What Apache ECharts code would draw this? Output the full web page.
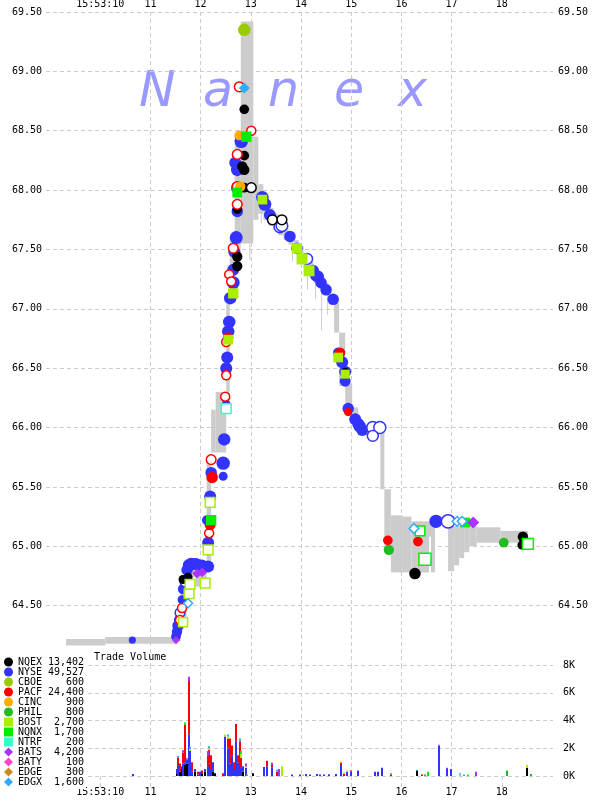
<!DOCTYPE html>
<html><head><meta charset="utf-8">
<script src="https://cdn.jsdelivr.net/npm/echarts@6/dist/echarts.min.js"></script>
<style>html,body{margin:0;padding:0;background:#fff}#chart{width:600px;height:800px}</style>
</head><body><div id="chart"></div>
<script>
// ---------- DATA ----------
const exchanges = ['NQEX','NYSE','CBOE','PACF','CINC','PHIL','BOST','NQNX','NTRF','BATS','BATY','EDGE','EDGX'];
const exchangeVolumeLabels = ['13,402','49,527','600','24,400','900','800','2,700','1,700','200','4,200','100','300','1,600'];
const timeTickValues = [10,11,12,13,14,15,16,17,18];
const timeTickLabels = ['15:53:10','11','12','13','14','15','16','17','18'];
const priceTickLabels = ['64.50','65.00','65.50','66.00','66.50','67.00','67.50','68.00','68.50','69.00','69.50'];
const volumeTickLabels = ['0K','2K','4K','6K','8K'];

// NBBO spread: [start second, end second, bid, ask]
const nbboSpread = [
 [9.32,10.10,64.165,64.22],[10.10,11.52,64.18,64.235],[11.52,11.60,64.20,64.42],[11.60,11.72,64.38,64.76],
 [11.72,11.90,64.74,64.86],[11.90,12.12,64.66,64.85],[12.12,12.21,64.85,65.72],[12.21,12.30,65.79,66.15],
 [12.30,12.51,65.79,66.30],[12.51,12.58,66.28,67.10],[12.58,12.68,67.05,67.60],[12.68,12.80,67.40,68.45],
 [12.80,13.05,67.55,69.42],[13.05,13.15,67.75,68.45],[13.15,13.25,67.80,68.05],[13.25,13.35,67.75,67.95],
 [13.35,13.45,67.70,67.85],[13.45,13.55,67.66,67.80],[13.55,13.65,67.62,67.75],[13.65,13.75,67.58,67.70],
 [13.75,13.85,67.54,67.65],[13.85,13.95,67.48,67.58],[13.95,14.05,67.40,67.53],[14.05,14.15,67.35,67.46],
 [14.15,14.25,67.28,67.40],[14.25,14.35,67.22,67.33],[14.35,14.45,67.17,67.28],[14.45,14.55,67.12,67.22],
 [14.55,14.66,67.05,67.12],[14.66,14.76,66.80,67.10],[14.76,14.88,66.35,66.80],[14.88,15.02,66.15,66.37],
 [15.02,15.14,66.05,66.17],[15.14,15.58,65.96,66.01],[15.58,15.66,65.48,65.98],[15.66,15.79,64.98,65.48],
 [15.79,16.03,64.78,65.26],[16.03,16.20,64.78,65.25],[16.20,16.55,64.78,65.21],[16.55,16.59,65.08,65.21],
 [16.59,16.67,64.78,65.20],[16.93,17.05,64.79,65.17],[17.05,17.15,64.84,65.17],[17.15,17.25,64.90,65.17],
 [17.25,17.35,64.95,65.17],[17.35,17.50,65.00,65.17],[17.50,17.97,65.03,65.16],[17.97,18.52,65.03,65.13],
 [12.97,12.99,67.41,67.70],[13.20,13.22,67.72,67.90],[13.82,13.84,67.40,67.58],[14.12,14.14,67.16,67.34],
 [14.28,14.30,67.08,67.27],[14.40,14.42,66.82,67.20],[14.52,14.54,66.95,67.16]
];

// trades: [second, price, shares, hollow flag]
const nqexTrades = [[11.65,64.72,400,0],[11.75,64.74,400,0],[12.73,67.36,600,0],[12.73,67.44,600,0],[12.73,67.84,500,0],
 [12.87,68.02,500,0],[13.01,68.02,500,1],[12.83,68.20,600,0],[12.87,68.17,600,0],[12.87,68.29,500,0],[12.87,68.68,500,0],
 [13.43,67.75,500,1],[13.62,67.75,500,1],[14.88,66.47,300,0],[16.27,64.77,800,0],[18.42,65.08,600,0],[18.40,65.01,400,0]];
const nyseTrades = [[10.64,64.21,200,0],[11.51,64.24,500,0],[11.53,64.28,600,0],[11.55,64.33,800,0],[11.57,64.38,600,0],
 [11.59,64.44,500,1],[11.63,64.55,400,0],[11.65,64.64,600,0],[11.69,64.70,500,1],[11.73,64.80,800,0],[11.77,64.84,1000,0],
 [11.81,64.85,1000,0],[11.85,64.85,900,0],[11.91,64.85,900,0],[11.97,64.84,800,0],[12.03,64.84,800,0],[12.09,64.83,700,0],
 [12.15,64.83,900,0],[12.15,65.03,900,0],[12.13,65.22,600,0],[12.19,65.42,900,0],[12.21,65.62,800,0],[12.45,65.59,400,0],
 [12.45,65.70,1200,0],[12.47,65.90,1000,0],[12.51,66.20,300,0],[12.51,66.50,900,0],[12.53,66.59,900,0],[12.55,66.81,1000,0],
 [12.57,66.89,1000,0],[12.59,67.09,1000,0],[12.65,67.22,1100,0],[12.65,67.33,900,0],[12.67,67.48,900,0],[12.71,67.60,1100,0],
 [12.73,67.82,800,0],[12.73,68.02,1000,0],[12.69,68.23,900,0],[12.73,68.17,1000,0],[12.81,68.41,1200,0],[13.23,67.94,1000,0],
 [13.28,67.88,1100,0],[13.38,67.79,900,0],[13.58,67.69,800,1],[13.62,67.70,800,1],[13.78,67.61,800,0],[13.92,67.51,800,0],
 [14.12,67.42,700,1],[14.24,67.32,900,0],[14.30,67.28,900,0],[14.34,67.27,900,0],[14.40,67.22,800,0],[14.50,67.16,800,0],
 [14.64,67.08,800,0],[14.74,66.63,600,0],[14.82,66.55,900,0],[14.88,66.47,900,0],[14.88,66.39,700,0],[14.94,66.16,800,0],
 [15.08,66.07,900,0],[15.14,66.03,900,0],[15.17,66.01,1000,0],[15.22,65.98,900,0],[15.43,66.00,900,1],[15.57,66.00,900,1],
 [15.43,65.93,700,1],[16.69,65.21,1200,0],[16.93,65.21,1200,1]];
const cboeTrades = [[12.87,69.35,1000,0]];
const pacfTrades = [[11.59,64.38,400,1],[11.63,64.48,400,1],[12.17,65.11,400,1],[12.19,65.18,700,0],[12.23,65.58,800,0],
 [12.21,65.73,500,1],[12.49,66.26,400,1],[12.51,66.44,400,1],[12.51,66.72,400,1],[12.55,66.76,600,0],[12.57,67.29,400,1],
 [12.61,67.23,400,1],[12.65,67.51,500,1],[12.73,67.88,500,1],[12.73,68.03,500,1],[12.73,68.30,500,1],[13.01,68.50,400,1],
 [12.77,68.87,500,1],[14.78,66.63,600,0],[14.94,66.13,300,0],[15.73,65.05,500,0],[16.33,65.04,500,0]];
const cincTrades = [[12.79,68.03,600,0],[12.77,68.46,500,0]];
const philTrades = [[15.75,64.97,600,0],[18.04,65.03,500,0]];
const bostTrades = [[11.65,64.36,400,1],[11.77,64.60,500,1],[11.79,64.68,500,1],[12.09,64.69,500,1],[12.15,64.97,500,1],
 [12.19,65.37,500,1],[12.55,66.74,500,0],[12.65,67.13,600,0],[13.23,67.92,500,0],[13.92,67.51,600,0],[14.02,67.42,700,0],
 [14.16,67.32,700,0],[14.74,66.59,500,0],[14.88,66.45,400,0]];
const nqnxTrades = [[12.21,65.22,600,0],[12.73,67.98,500,0],[12.91,68.45,600,0],[16.37,65.13,500,1],[16.47,64.89,900,1],
 [17.27,65.20,500,0],[18.52,65.02,700,1]];
const ntrfTrades = [[12.51,66.16,500,1]];
const batsTrades = [[11.51,64.21,300,0],[11.93,64.77,500,0],[12.03,64.78,500,0],[17.43,65.20,900,0]];
const batyTrades = [];
const edgeTrades = [];
const edgxTrades = [[11.75,64.52,400,1],[12.87,68.86,700,0],[16.25,65.15,500,1],[17.11,65.21,500,1],[17.21,65.21,500,1]];

// volume per exchange: [second, shares]
const nqexVolume = [[11.53,200],[11.59,300],[11.62,500],[11.69,800],[11.72,900],[11.88,300],[12.03,200],[12.08,300],[12.24,300],
 [12.28,200],[12.85,300],[13.05,200],[16.32,400],[18.50,600]];
const nyseVolume = [[10.655,150],[11.53,300],[11.55,800],[11.62,200],[11.655,900],[11.69,200],[11.72,300],[11.77,3000],[11.79,1800],
 [11.83,300],[11.88,200],[11.94,100],[11.99,300],[12.08,200],[12.14,700],[12.17,900],[12.21,500],[12.24,700],[12.48,2850],
 [12.54,2000],[12.59,900],[12.62,1500],[12.66,500],[12.70,2500],[12.74,1000],[12.78,1500],[12.81,600],[12.85,400],[12.90,600],
 [13.26,650],[13.32,700],[13.43,600],[13.83,100],[13.97,100],[14.10,150],[14.17,100],[14.31,150],[14.38,100],[14.45,100],
 [14.55,120],[14.69,150],[14.79,800],[14.92,300],[15.00,300],[15.14,400],[15.48,300],[15.54,300],[15.62,600],[16.74,2200],
 [16.90,500],[16.99,500]];
const cboeVolume = [];
const pacfVolume = [[11.55,500],[11.59,600],[11.655,800],[11.69,2700],[11.77,3850],[11.83,700],[11.94,200],[12.03,200],[12.14,800],
 [12.17,1000],[12.21,1000],[12.45,200],[12.54,700],[12.59,1800],[12.62,700],[12.66,500],[12.70,1240],[12.74,500],[12.78,1000],
 [12.81,700],[13.32,400],[13.43,200],[13.52,300],[14.79,150],[14.85,150],[15.00,100],[15.79,100],[16.41,100]];
const cincVolume = [[14.79,100]];
const philVolume = [[15.79,100],[16.48,100],[18.10,400],[18.59,150]];
const bostVolume = [[11.79,150],[12.17,100],[12.48,150],[12.54,150],[12.81,300],[12.90,100],[13.62,700],[14.03,100],[14.85,100],
 [14.92,100],[18.50,200]];
const nqnxVolume = [[11.69,150],[12.81,200],[12.93,100],[16.53,300],[17.33,100]];
const ntrfVolume = [[17.17,100]];
const batsVolume = [[11.655,150],[11.77,300],[12.14,300],[12.90,200],[13.43,150],[13.57,500],[16.74,50],[16.90,100],[17.48,300]];
const batyVolume = [[11.72,100]];
const edgeVolume = [];
const edgxVolume = [[11.55,150],[11.79,200],[12.17,150],[12.54,150],[12.78,200],[13.52,150],[16.32,50],[17.17,100],[17.24,100]];

// ---------- STYLE ----------
const MONO = '"DejaVu Sans Mono", monospace';
const exStyle = {
  NQEX:{color:'#000000',symbol:'circle'}, NYSE:{color:'#3333ff',symbol:'circle'}, CBOE:{color:'#99cc00',symbol:'circle'},
  PACF:{color:'#ff0000',symbol:'circle'}, CINC:{color:'#ffaa00',symbol:'circle'}, PHIL:{color:'#22bb22',symbol:'circle'},
  BOST:{color:'#aaee00',symbol:'rect'}, NQNX:{color:'#00ee00',symbol:'rect'}, NTRF:{color:'#33ffcc',symbol:'rect'},
  BATS:{color:'#aa33ff',symbol:'diamond'}, BATY:{color:'#ff44cc',symbol:'diamond'}, EDGE:{color:'#cc8822',symbol:'diamond'},
  EDGX:{color:'#33aaff',symbol:'diamond'}
};
const tradesBy = {NQEX:nqexTrades,NYSE:nyseTrades,CBOE:cboeTrades,PACF:pacfTrades,CINC:cincTrades,PHIL:philTrades,BOST:bostTrades,
  NQNX:nqnxTrades,NTRF:ntrfTrades,BATS:batsTrades,BATY:batyTrades,EDGE:edgeTrades,EDGX:edgxTrades};
const volumeBy = {NQEX:nqexVolume,NYSE:nyseVolume,CBOE:cboeVolume,PACF:pacfVolume,CINC:cincVolume,PHIL:philVolume,BOST:bostVolume,
  NQNX:nqnxVolume,NTRF:ntrfVolume,BATS:batsVolume,BATY:batyVolume,EDGE:edgeVolume,EDGX:edgxVolume};

function sizeOf(shares){ return 3 + 0.3*Math.sqrt(shares); }

const series = [];
series.push({
  name:'NBBO', type:'custom', xAxisIndex:0, yAxisIndex:0, z:1, silent:true,
  encode:{x:[0,1], y:[2,3]},
  data: nbboSpread,
  renderItem: function(params, api){
    const a = api.coord([api.value(0), api.value(3)]);
    const b = api.coord([api.value(1), api.value(2)]);
    return {type:'rect', shape:{x:a[0], y:a[1], width:Math.max(b[0]-a[0],1), height:b[1]-a[1]}, style:{fill:'#cccccc'}};
  }
});
// scatter: NYSE drawn first (below)
const drawOrder = ['NYSE','NQEX','CBOE','PACF','CINC','PHIL','BOST','NQNX','NTRF','BATS','BATY','EDGE','EDGX'];
drawOrder.forEach(n => {
  const c = exStyle[n].color;
  series.push({
    name:n, type:'scatter', xAxisIndex:0, yAxisIndex:0, z: n==='NYSE'?3:4,
    symbol: exStyle[n].symbol, itemStyle:{color:c, opacity:1},
    emphasis:{disabled:true},
    data: tradesBy[n].map(r => ({
      value:[r[0], r[1]], symbolSize: sizeOf(r[2]),
      itemStyle: r[3] ? {color:'#ffffff', borderColor:c, borderWidth:1.5, opacity:1} : {color:c, opacity:1}
    }))
  });
});
// volume: stacked bars NQEX bottom, NYSE, PACF, then the others (stack computed here)
const stackOrder = ['NQEX','NYSE','PACF','CBOE','CINC','PHIL','BOST','NQNX','NTRF','BATS','BATY','EDGE','EDGX'];
const runningTotal = {};
stackOrder.forEach(n => {
  const rows = volumeBy[n].map(r => {
    const base = runningTotal[r[0]] || 0;
    runningTotal[r[0]] = base + r[1];
    return [r[0], base, base + r[1]];
  });
  series.push({
    name:n, type:'custom', xAxisIndex:1, yAxisIndex:2, z:3, silent:true,
    itemStyle:{color:exStyle[n].color},
    encode:{x:0, y:[1,2]},
    data: rows,
    renderItem: function(params, api){
      const top = api.coord([api.value(0), api.value(2)]);
      const bot = api.coord([api.value(0), api.value(1)]);
      return {type:'rect', shape:{x:Math.round(top[0])-1, y:top[1], width:2, height:bot[1]-top[1]},
              style:{fill:exStyle[n].color}};
    }
  });
});

const splitDash = {show:true, lineStyle:{color:'#cccccc', type:[4,3], width:1}, showMinLine:false, showMaxLine:false};
const timeFmt = v => { const i = timeTickValues.indexOf(Math.round(v*1000)/1000); return i>=0 ? timeTickLabels[i] : ''; };
const wmFont = 'oblique 49px "DejaVu Sans"';

const option = {
  animation:false,
  backgroundColor:'#ffffff',
  title:{text:'Trade Volume', left:94, top:652, padding:0,
    textStyle:{fontFamily:MONO, fontSize:10, fontWeight:'normal', color:'#000'}},
  legend:{
    orient:'vertical', left:2, top:655, padding:[2,2], itemGap:0, itemWidth:9, itemHeight:9,
    backgroundColor:'#ffffff', selectedMode:false,
    data: exchanges.map(n => ({name:n, icon: exStyle[n].symbol})),
    formatter: name => '{n|' + name + '}{v|' + exchangeVolumeLabels[exchanges.indexOf(name)] + '}',
    textStyle:{fontFamily:MONO, fontSize:10, color:'#000', lineHeight:10,
      rich:{n:{fontFamily:MONO, fontSize:10, width:27, lineHeight:10, color:'#000'},
            v:{fontFamily:MONO, fontSize:10, width:39, align:'right', lineHeight:10, color:'#000'}}}
  },
  grid:[
    {left:46, right:47, top:12, height:653, outerBoundsMode:'none', containLabel:false},
    {left:46, right:47, top:665, height:111, outerBoundsMode:'none', containLabel:false}
  ],
  xAxis:[
    {gridIndex:0, type:'value', position:'top', min:8.92, max:19.02,
     axisLine:{show:false}, axisTick:{show:false, customValues:timeTickValues},
     axisLabel:{show:true, customValues:timeTickValues, formatter:timeFmt, margin:3, fontFamily:MONO, fontSize:10, color:'#000'},
     splitLine:splitDash},
    {gridIndex:1, type:'value', position:'bottom', min:8.92, max:19.02,
     axisLine:{show:false},
     axisTick:{show:true, customValues:timeTickValues, length:12, lineStyle:{color:'#cccccc', type:[4,3]}},
     axisLabel:{show:true, customValues:timeTickValues, formatter:timeFmt, margin:11, fontFamily:MONO, fontSize:10, color:'#000'},
     splitLine:splitDash}
  ],
  yAxis:[
    {gridIndex:0, type:'value', position:'left', min:64, max:69.5, interval:0.5,
     axisLine:{show:false}, axisTick:{show:false},
     axisLabel:{margin:4, fontFamily:MONO, fontSize:10, color:'#000',
       formatter:v => priceTickLabels.indexOf(v.toFixed(2))>=0 ? v.toFixed(2) : ''},
     splitLine:{show:true, lineStyle:{color:'#cccccc', type:[4,3]}, showMinLine:false}},
    {gridIndex:0, type:'value', position:'right', min:64, max:69.5, interval:0.5,
     axisLine:{show:false}, axisTick:{show:false},
     axisLabel:{margin:5, fontFamily:MONO, fontSize:10, color:'#000',
       formatter:v => priceTickLabels.indexOf(v.toFixed(2))>=0 ? v.toFixed(2) : ''},
     splitLine:{show:false}},
    {gridIndex:1, type:'value', position:'right', min:0, max:8000, interval:2000,
     axisLine:{show:false}, axisTick:{show:false},
     axisLabel:{margin:10, fontFamily:MONO, fontSize:10, color:'#000', formatter:v => volumeTickLabels[Math.round(v/2000)]},
     splitLine:{show:true, lineStyle:{color:'#cccccc', type:[4,3]}}}
  ],
  graphic:[
    {type:'text', z:0, silent:true, style:{text:'N', x:139, y:93, font:wmFont, fill:'#9999ff', verticalAlign:'middle'}},
    {type:'text', z:0, silent:true, style:{text:'a', x:203, y:93, font:wmFont, fill:'#9999ff', verticalAlign:'middle'}},
    {type:'text', z:0, silent:true, style:{text:'n', x:268, y:93, font:wmFont, fill:'#9999ff', verticalAlign:'middle'}},
    {type:'text', z:0, silent:true, style:{text:'e', x:334, y:93, font:wmFont, fill:'#9999ff', verticalAlign:'middle'}},
    {type:'text', z:0, silent:true, style:{text:'x', x:398, y:93, font:wmFont, fill:'#9999ff', verticalAlign:'middle'}}
  ],
  series: series
};
const chart = echarts.init(document.getElementById('chart'), null, {renderer:'canvas', width:600, height:800});
chart.setOption(option);
</script>
</body></html>
